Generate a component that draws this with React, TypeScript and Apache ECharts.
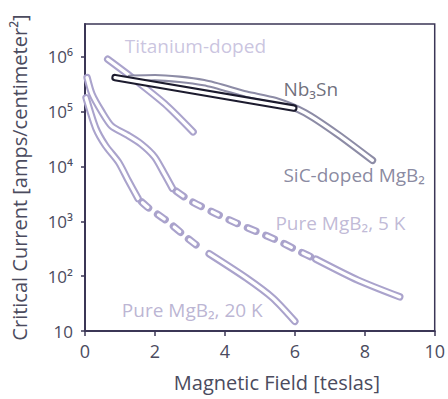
import React, { useEffect, useRef } from 'react';
import * as echarts from 'echarts';

// ---- data ----
const xTicks = [0, 2, 4, 6, 8, 10];
const yTicks = [10, 1e2, 1e3, 1e4, 1e5, 1e6];

const titanium: [number, number][] = [[0.65, 9.1e5], [1.35, 4.2e5], [2.28, 1.4e5], [3.09, 4.3e4]];
const nb3sn: [number, number][] = [[0.86, 4.2e5], [5.97, 1.17e5]];
const sicDoped: [number, number][] = [[1.3, 4.1e5], [2.0, 4.2e5], [3.4, 3.4e5], [4.61, 2.1e5], [5.45, 1.6e5], [6.29, 9.6e4], [7.22, 3.9e4], [8.22, 1.3e4]];
const pure5kHigh: [number, number][] = [[0.06, 4.2e5], [0.2, 2.1e5], [0.48, 1.0e5], [0.76, 5.5e4], [1.2, 3.8e4], [1.6, 2.6e4], [1.99, 1.5e4], [2.28, 7.2e3], [2.5, 4.0e3]];
const pure5kMid: [number, number][] = [[2.5, 4.0e3], [3.0, 2.4e3], [3.68, 1.45e3], [4.33, 930], [4.89, 660], [5.53, 440], [6.1, 290], [6.6, 205]];
const pure5kLow: [number, number][] = [[6.6, 205], [7.8, 85], [9.0, 42]];
const pure20kHigh: [number, number][] = [[0.03, 1.8e5], [0.31, 5.0e4], [0.59, 2.4e4], [0.96, 1.2e4], [1.24, 5.5e3], [1.52, 2.6e3]];
const pure20kMid: [number, number][] = [[1.52, 2.6e3], [1.8, 1.8e3], [2.36, 1.0e3], [2.92, 500], [3.4, 290]];
const pure20kLow: [number, number][] = [[3.55, 257], [4.61, 93], [5.37, 40], [6.0, 15]];

const labelTexts = ['Titanium-doped', 'Nb₃Sn', 'SiC-doped MgB₂', 'Pure MgB₂, 5 K', 'Pure MgB₂, 20 K'];
const labelX = [1.12, 5.66, 5.66, 5.43, 1.04];
const labelY = [1.6e6, 2.6e5, 7.1e3, 930, 24];

// ---- styles ----
const FONT = '"Open Sans", "Noto Sans", sans-serif';
const LAV = '#aaa3cc';
const SIC = '#8d8ca6';
const NB = '#1c1b2e';
const AXIS = '#3b3656';
const TEXT = '#4b4b5e';
const labelColors = ['#bdb6d8', '#4a4a5a', '#6b6b88', '#b0a8cc', '#aaa2c8'];
const SUP: Record<number, string> = { 2: '²', 3: '³', 4: '⁴', 5: '⁵', 6: '⁶' };

function hollow(data: [number, number][], color: string, dashed = false, smooth: number | boolean = 0.25, outerW = 7.5, innerW = 3.3) {
  const base = { type: 'line', data, symbol: 'none', smooth, silent: true, animation: false };
  return [
    {
      ...base,
      lineStyle: {
        color, width: outerW, cap: 'round', join: 'round',
        type: dashed ? [9, 11] : 'solid', dashOffset: dashed ? -5 : 0,
      },
    },
    {
      ...base,
      lineStyle: {
        color: '#ffffff', width: innerW, cap: 'round', join: 'round',
        type: dashed ? [7, 13] : 'solid', dashOffset: dashed ? -6 : 0,
      },
    },
  ];
}

export default function App() {
  const ref = useRef<HTMLDivElement>(null);
  useEffect(() => {
    if (!ref.current) return;
    const chart = echarts.init(ref.current, undefined, { renderer: 'svg' });
    const series: any[] = [
      ...hollow(pure20kHigh, LAV),
      ...hollow(pure20kMid, LAV, true),
      ...hollow(pure20kLow, LAV),
      ...hollow(pure5kHigh, LAV),
      ...hollow(pure5kMid, LAV, true),
      ...hollow(pure5kLow, LAV),
      ...hollow(titanium, LAV),
      ...hollow(sicDoped, SIC),
      ...hollow(nb3sn, NB, false, false, 7.5, 3.4),
      {
        type: 'scatter',
        symbolSize: 1,
        silent: true,
        itemStyle: { color: 'rgba(0,0,0,0)' },
        z: 10,
        label: {
          show: true, position: 'right', distance: 0, formatter: '{b}',
          fontSize: 19, fontFamily: FONT,
        },
        data: labelTexts.map((t, i) => ({
          name: t,
          value: [labelX[i], labelY[i]],
          label: { color: labelColors[i] },
        })),
      },
    ];
    chart.setOption({
      animation: false,
      textStyle: { fontFamily: FONT },
      grid: {
        left: 85, right: 6, top: 24, bottom: 68,
        show: true, borderColor: AXIS, borderWidth: 1.5, backgroundColor: 'transparent',
      },
      xAxis: {
        type: 'value', min: 0, max: 10, interval: 2,
        name: 'Magnetic Field [teslas]', nameLocation: 'middle', nameGap: 41,
        nameTextStyle: { fontSize: 20, color: TEXT, fontFamily: FONT, padding: [0, 0, 0, 34] },
        axisLine: { show: true, lineStyle: { color: AXIS, width: 2 } },
        axisTick: { show: true, inside: false, length: 5, lineStyle: { color: AXIS, width: 1.5 }, customValues: xTicks },
        axisLabel: { fontSize: 18, color: TEXT, margin: 11, fontFamily: FONT, customValues: xTicks },
        splitLine: { show: false },
      },
      yAxis: {
        type: 'log', logBase: 10, min: 10, max: 4e6,
        name: 'Critical Current [amps/centimeter²]', nameLocation: 'middle', nameGap: 56,
        nameTextStyle: { fontSize: 20, color: TEXT, fontFamily: FONT },
        axisLine: { show: true, lineStyle: { color: AXIS, width: 2 } },
        axisTick: { show: true, inside: false, length: 4, lineStyle: { color: AXIS, width: 1.5 }, customValues: yTicks },
        axisLabel: {
          fontSize: 17, color: TEXT, margin: 12, fontFamily: FONT, customValues: yTicks,
          formatter: (v: number) => {
            const e = Math.round(Math.log10(v));
            return e === 1 ? '10' : '10' + SUP[e];
          },
        },
        splitLine: { show: false },
        minorSplitLine: { show: false },
      },
      series,
    });
    return () => chart.dispose();
  }, []);
  return <div ref={ref} style={{ position: 'absolute', left: 0, top: 0, width: 448, height: 399 }} />;
}
